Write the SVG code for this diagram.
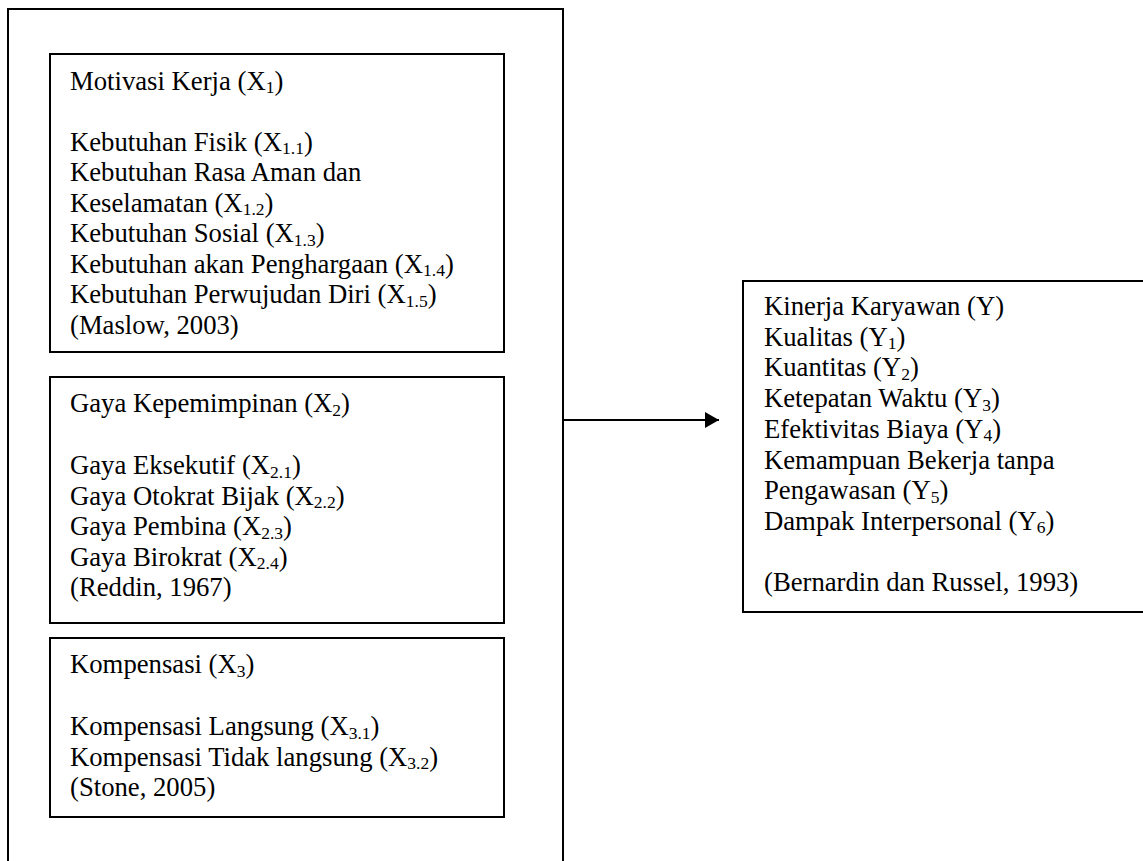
<svg xmlns="http://www.w3.org/2000/svg" width="1143" height="861" viewBox="0 0 1143 861">
<style>
.box{fill:none;stroke:#000;stroke-width:2}
.t{font-family:"Liberation Serif","Times New Roman",Tinos,"DejaVu Serif",serif;font-size:26.7px;fill:#000}
.s{font-size:17.5px}
.con{stroke:#000;stroke-width:2;fill:none}
</style>
<defs>
<marker id="ah" markerUnits="userSpaceOnUse" markerWidth="16" markerHeight="18" refX="14" refY="8" orient="auto">
<path d="M0,0 L14,8 L0,16 Z" fill="#000"/>
</marker>
</defs>
<rect width="1143" height="861" fill="#fff"/>
<g id="outer">
<rect class="box" x="8" y="9" width="555" height="900"/>
</g>
<g id="x1">
<rect class="box" x="50" y="54" width="454" height="298"/>
<text class="t" x="70" y="89.5">Motivasi Kerja (X<tspan class="s" dy="3.5">1</tspan><tspan dy="-3.5">)</tspan></text>
<text class="t" x="70" y="150.7">Kebutuhan Fisik (X<tspan class="s" dy="3.5">1.1</tspan><tspan dy="-3.5">)</tspan></text>
<text class="t" x="70" y="181.2">Kebutuhan Rasa Aman dan</text>
<text class="t" x="70" y="211.8">Keselamatan (X<tspan class="s" dy="3.5">1.2</tspan><tspan dy="-3.5">)</tspan></text>
<text class="t" x="70" y="242.3">Kebutuhan Sosial (X<tspan class="s" dy="3.5">1.3</tspan><tspan dy="-3.5">)</tspan></text>
<text class="t" x="70" y="272.9">Kebutuhan akan Penghargaan (X<tspan class="s" dy="3.5">1.4</tspan><tspan dy="-3.5">)</tspan></text>
<text class="t" x="70" y="303.4">Kebutuhan Perwujudan Diri (X<tspan class="s" dy="3.5">1.5</tspan><tspan dy="-3.5">)</tspan></text>
<text class="t" x="70" y="334">(Maslow, 2003)</text>
</g>
<g id="x2">
<rect class="box" x="50" y="377" width="454" height="246"/>
<text class="t" x="70" y="412.4">Gaya Kepemimpinan (X<tspan class="s" dy="3.5">2</tspan><tspan dy="-3.5">)</tspan></text>
<text class="t" x="70" y="474">Gaya Eksekutif (X<tspan class="s" dy="3.5">2.1</tspan><tspan dy="-3.5">)</tspan></text>
<text class="t" x="70" y="504.6">Gaya Otokrat Bijak (X<tspan class="s" dy="3.5">2.2</tspan><tspan dy="-3.5">)</tspan></text>
<text class="t" x="70" y="535.2">Gaya Pembina (X<tspan class="s" dy="3.5">2.3</tspan><tspan dy="-3.5">)</tspan></text>
<text class="t" x="70" y="565.8">Gaya Birokrat (X<tspan class="s" dy="3.5">2.4</tspan><tspan dy="-3.5">)</tspan></text>
<text class="t" x="70" y="596.4">(Reddin, 1967)</text>
</g>
<g id="x3">
<rect class="box" x="50" y="638" width="454" height="179"/>
<text class="t" x="70" y="673.4">Kompensasi (X<tspan class="s" dy="3.5">3</tspan><tspan dy="-3.5">)</tspan></text>
<text class="t" x="70" y="735">Kompensasi Langsung (X<tspan class="s" dy="3.5">3.1</tspan><tspan dy="-3.5">)</tspan></text>
<text class="t" x="70" y="765.6">Kompensasi Tidak langsung (X<tspan class="s" dy="3.5">3.2</tspan><tspan dy="-3.5">)</tspan></text>
<text class="t" x="70" y="796.2">(Stone, 2005)</text>
</g>
<g id="y">
<rect class="box" x="743" y="281" width="420" height="331"/>
<text class="t" x="764" y="315">Kinerja Karyawan (Y)</text>
<text class="t" x="764" y="345.7">Kualitas (Y<tspan class="s" dy="3.5">1</tspan><tspan dy="-3.5">)</tspan></text>
<text class="t" x="764" y="376.4">Kuantitas (Y<tspan class="s" dy="3.5">2</tspan><tspan dy="-3.5">)</tspan></text>
<text class="t" x="764" y="407.1">Ketepatan Waktu (Y<tspan class="s" dy="3.5">3</tspan><tspan dy="-3.5">)</tspan></text>
<text class="t" x="764" y="437.8">Efektivitas Biaya (Y<tspan class="s" dy="3.5">4</tspan><tspan dy="-3.5">)</tspan></text>
<text class="t" x="764" y="468.5">Kemampuan Bekerja tanpa</text>
<text class="t" x="764" y="499.2">Pengawasan (Y<tspan class="s" dy="3.5">5</tspan><tspan dy="-3.5">)</tspan></text>
<text class="t" x="764" y="529.9">Dampak Interpersonal (Y<tspan class="s" dy="3.5">6</tspan><tspan dy="-3.5">)</tspan></text>
<text class="t" x="764" y="591.3">(Bernardin dan Russel, 1993)</text>
</g>
<g id="connectors">
<line class="con" x1="563" y1="420" x2="719" y2="420" marker-end="url(#ah)"/>
</g>
</svg>
